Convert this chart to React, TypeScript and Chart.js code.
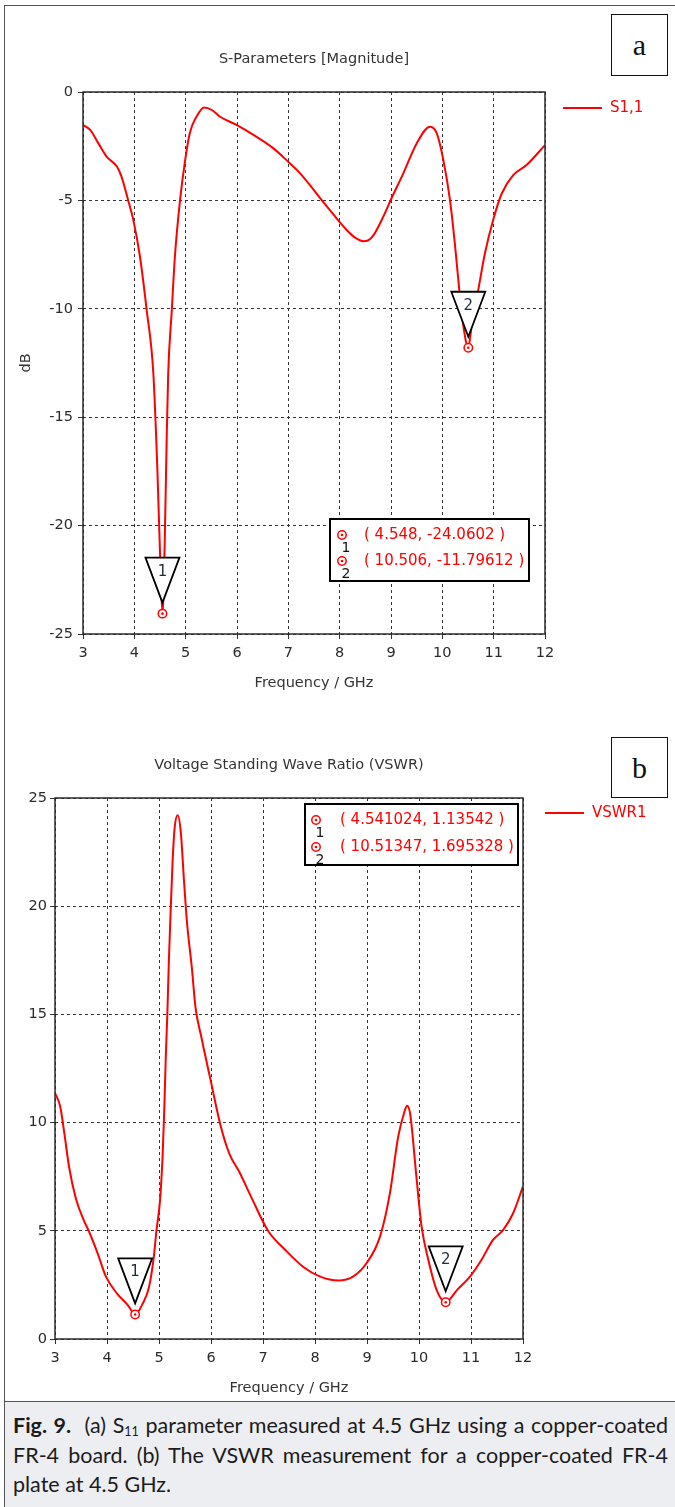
import React, { useEffect, useRef } from 'react';
import { Chart, registerables } from 'chart.js';

Chart.register(...registerables);

const FONT = "'DejaVu Sans', Verdana, sans-serif";
const RED = '#ff0000';
const INK = '#2a2a2a';

// ---------- (a) S-Parameters ----------
const freqA = [3.0, 3.14, 3.3, 3.46, 3.66, 3.75, 3.88, 3.98, 4.11, 4.24, 4.37, 4.45, 4.51, 4.548, 4.59, 4.63, 4.66, 4.73, 4.79, 4.89, 4.99, 5.08, 5.21, 5.36, 5.51, 5.67, 5.99, 6.32, 6.71, 7.03, 7.23, 7.49, 7.62, 7.88, 8.0, 8.15, 8.3, 8.46, 8.55, 8.66, 8.85, 9.01, 9.24, 9.5, 9.76, 9.89, 10.02, 10.15, 10.25, 10.33, 10.41, 10.506, 10.57, 10.7, 10.83, 10.99, 11.16, 11.38, 11.64, 12.0];
const s11 = [-1.52, -1.75, -2.37, -2.98, -3.44, -3.9, -5.0, -5.9, -7.6, -10.05, -12.97, -17.5, -22.0, -24.06, -21.0, -16.0, -12.97, -10.05, -7.6, -5.0, -3.14, -1.9, -1.14, -0.71, -0.83, -1.14, -1.52, -1.98, -2.6, -3.29, -3.75, -4.5, -4.9, -5.65, -6.0, -6.4, -6.72, -6.88, -6.85, -6.6, -5.75, -4.9, -3.75, -2.37, -1.6, -1.9, -3.14, -5.0, -7.14, -9.13, -10.8, -11.8, -10.8, -9.13, -7.44, -5.9, -4.67, -3.83, -3.37, -2.45];
const markerFreqA = [4.548, 10.506];
const markerValA = [-24.0602, -11.79612];

// ---------- (b) VSWR ----------
const freqB = [3.0, 3.1, 3.18, 3.27, 3.4, 3.55, 3.65, 3.82, 3.98, 4.19, 4.4, 4.541, 4.69, 4.81, 4.9, 4.95, 5.02, 5.07, 5.1, 5.13, 5.16, 5.19, 5.22, 5.26, 5.3, 5.36, 5.42, 5.48, 5.54, 5.63, 5.7, 5.81, 5.98, 6.19, 6.35, 6.56, 6.77, 7.1, 7.43, 7.77, 8.1, 8.45, 8.73, 8.99, 9.25, 9.44, 9.6, 9.72, 9.77, 9.83, 9.95, 10.05, 10.18, 10.34, 10.513, 10.73, 10.98, 11.2, 11.42, 11.62, 11.81, 12.0];
const vswr = [11.38, 10.74, 9.5, 7.96, 6.5, 5.5, 4.99, 3.96, 2.88, 2.11, 1.57, 1.135, 1.65, 2.42, 3.8, 4.99, 6.42, 8.5, 10.5, 13.0, 15.0, 17.5, 19.5, 22.0, 23.6, 24.2, 23.4, 21.2, 19.2, 17.2, 15.36, 14.0, 12.1, 9.81, 8.58, 7.65, 6.58, 4.99, 4.11, 3.34, 2.88, 2.7, 2.88, 3.5, 4.73, 6.73, 9.35, 10.5, 10.78, 10.4, 7.5, 5.19, 3.65, 2.26, 1.695, 2.26, 2.88, 3.65, 4.57, 5.04, 5.81, 7.05];
const markerFreqB = [4.541024, 10.51347];
const markerValB = [1.13542, 1.695328];

const freqTicks = { min: 3, max: 12, step: 1 };

type Decor = {
  title: string;
  titleY: number;
  legendX: number;
  legendY: number;
  mFreq: number[];
  mVal: number[];
  box: { x: number; y: number; w: number; h: number; cx: number; rows: number[]; tx: number };
};

function makeDecor(d: Decor) {
  return {
    id: 'decor',
    afterDatasetsDraw(chart: any) {
      const { ctx, chartArea: ca, scales } = chart;
      const xs = scales.x;
      const ys = scales.y;
      ctx.save();
      // plot frame
      ctx.strokeStyle = '#2b2b2b';
      ctx.lineWidth = 1.5;
      ctx.strokeRect(ca.left, ca.top, ca.right - ca.left, ca.bottom - ca.top);

      // markers on the curve
      d.mFreq.forEach((f, i) => {
        const px = xs.getPixelForValue(f);
        const py = ys.getPixelForValue(d.mVal[i]);
        ctx.lineWidth = 1.5;
        ctx.strokeStyle = RED;
        ctx.fillStyle = '#fff';
        ctx.beginPath();
        ctx.arc(px, py, 4.2, 0, Math.PI * 2);
        ctx.fill();
        ctx.stroke();
        ctx.fillStyle = RED;
        ctx.beginPath();
        ctx.arc(px, py, 1.3, 0, Math.PI * 2);
        ctx.fill();
        const apex = py - 11;
        const top = py - 56;
        const hw = 17;
        ctx.beginPath();
        ctx.moveTo(px - hw, top);
        ctx.lineTo(px + hw, top);
        ctx.lineTo(px, apex);
        ctx.closePath();
        ctx.fillStyle = '#fff';
        ctx.fill();
        ctx.strokeStyle = '#000';
        ctx.lineWidth = 1.8;
        ctx.stroke();
        ctx.fillStyle = '#1e2b45';
        ctx.font = `15px ${FONT}`;
        ctx.textAlign = 'center';
        ctx.textBaseline = 'middle';
        ctx.fillText(String(i + 1), px, top + 14);
      });

      // marker info box
      const b = d.box;
      ctx.fillStyle = '#fff';
      ctx.fillRect(b.x, b.y, b.w, b.h);
      ctx.strokeStyle = '#000';
      ctx.lineWidth = 2;
      ctx.strokeRect(b.x, b.y, b.w, b.h);
      d.mFreq.forEach((f, i) => {
        const ry = b.rows[i];
        ctx.lineWidth = 1.5;
        ctx.strokeStyle = RED;
        ctx.beginPath();
        ctx.arc(b.cx, ry, 4.2, 0, Math.PI * 2);
        ctx.stroke();
        ctx.fillStyle = RED;
        ctx.beginPath();
        ctx.arc(b.cx, ry, 1.3, 0, Math.PI * 2);
        ctx.fill();
        ctx.fillStyle = '#111';
        ctx.font = `14px ${FONT}`;
        ctx.textAlign = 'center';
        ctx.textBaseline = 'middle';
        ctx.fillText(String(i + 1), b.cx + 4, ry + 13);
        ctx.fillStyle = RED;
        ctx.font = `15px ${FONT}`;
        ctx.textAlign = 'left';
        ctx.fillText(`( ${f}, ${d.mVal[i]} )`, b.tx, ry);
      });

      // title
      ctx.fillStyle = '#333';
      ctx.font = `14.5px ${FONT}`;
      ctx.textAlign = 'center';
      ctx.textBaseline = 'middle';
      ctx.fillText(d.title, (ca.left + ca.right) / 2, d.titleY);

      // legend
      const ds = chart.data.datasets[0];
      ctx.strokeStyle = ds.borderColor;
      ctx.lineWidth = 2;
      ctx.beginPath();
      ctx.moveTo(d.legendX, d.legendY);
      ctx.lineTo(d.legendX + 39, d.legendY);
      ctx.stroke();
      ctx.fillStyle = ds.borderColor;
      ctx.font = `15px ${FONT}`;
      ctx.textAlign = 'left';
      ctx.fillText(ds.label, d.legendX + 47, d.legendY);
      ctx.restore();
    },
  };
}

function buildConfig(p: {
  freqs: number[];
  vals: number[];
  label: string;
  yMin: number;
  yMax: number;
  yStep: number;
  padTop: number;
  padRight: number;
  yWidth: number;
  xHeight: number;
  xTitlePad: number;
  yTitle: string;
  yTitlePad: number;
  yTickPad: number;
  decor: Decor;
}): any {
  const tickFont = { family: FONT, size: 14.5 };
  const grid = {
    color: '#333',
    lineWidth: 1,
    drawTicks: true,
    tickLength: 5,
    tickColor: '#333',
    tickWidth: 1,
    tickBorderDash: [],
  };
  return {
    type: 'line',
    data: {
      datasets: [
        {
          label: p.label,
          data: p.freqs.map((f, i) => ({ x: f, y: p.vals[i] })),
          borderColor: RED,
          borderWidth: 2,
          pointRadius: 0,
          cubicInterpolationMode: 'monotone',
          fill: false,
        },
      ],
    },
    options: {
      responsive: false,
      animation: false,
      events: [],
      layout: { padding: { top: p.padTop, right: p.padRight, left: 0, bottom: 0 } },
      plugins: { legend: { display: false }, title: { display: false }, tooltip: { enabled: false } },
      scales: {
        x: {
          type: 'linear',
          min: freqTicks.min,
          max: freqTicks.max,
          afterFit: (s: any) => {
            s.height = p.xHeight;
          },
          ticks: { stepSize: freqTicks.step, font: tickFont, color: INK, padding: 6, maxRotation: 0, autoSkip: false },
          grid,
          border: { display: false, dash: [3, 3] },
          title: {
            display: true,
            text: 'Frequency / GHz',
            color: '#333',
            font: { family: FONT, size: 14.5 },
            padding: { top: 0, bottom: p.xTitlePad },
          },
        },
        y: {
          type: 'linear',
          min: p.yMin,
          max: p.yMax,
          afterFit: (s: any) => {
            s.width = p.yWidth;
          },
          ticks: { stepSize: p.yStep, font: tickFont, color: INK, padding: p.yTickPad },
          grid,
          border: { display: false, dash: [3, 3] },
          title: {
            display: p.yTitle !== '',
            text: p.yTitle,
            color: '#333',
            font: { family: FONT, size: 14.5 },
            padding: { top: p.yTitlePad, bottom: 0 },
          },
        },
      },
    },
    plugins: [makeDecor(p.decor)],
  };
}

export default function App() {
  const refA = useRef<HTMLCanvasElement>(null);
  const refB = useRef<HTMLCanvasElement>(null);

  useEffect(() => {
    const chartA = new Chart(
      refA.current as HTMLCanvasElement,
      buildConfig({
        freqs: freqA,
        vals: s11,
        label: 'S1,1',
        yMin: -25,
        yMax: 0,
        yStep: 5,
        padTop: 92,
        padRight: 130,
        yWidth: 83,
        xHeight: 66,
        xTitlePad: 8,
        yTitle: 'dB',
        yTitlePad: 18,
        yTickPad: 5,
        decor: {
          title: 'S-Parameters [Magnitude]',
          titleY: 59,
          legendX: 563,
          legendY: 108,
          mFreq: markerFreqA,
          mVal: markerValA,
          box: { x: 330, y: 519, w: 199, h: 62, cx: 342, rows: [535, 561], tx: 364 },
        },
      })
    );
    const chartB = new Chart(
      refB.current as HTMLCanvasElement,
      buildConfig({
        freqs: freqB,
        vals: vswr,
        label: 'VSWR1',
        yMin: 0,
        yMax: 25,
        yStep: 5,
        padTop: 98,
        padRight: 152,
        yWidth: 55,
        xHeight: 61,
        xTitlePad: 3,
        yTitle: '',
        yTitlePad: 0,
        yTickPad: 3,
        decor: {
          title: 'Voltage Standing Wave Ratio (VSWR)',
          titleY: 65,
          legendX: 545,
          legendY: 113,
          mFreq: markerFreqB,
          mVal: markerValB,
          box: { x: 305, y: 104, w: 213, h: 61, cx: 316, rows: [120, 147], tx: 340 },
        },
      })
    );
    return () => {
      chartA.destroy();
      chartB.destroy();
    };
  }, []);

  const letterBox = (top: number, h: number): React.CSSProperties => ({
    position: 'absolute',
    left: 611,
    top,
    width: 57,
    height: h,
    boxSizing: 'border-box',
    border: '1.5px solid #111',
    background: '#fff',
    fontFamily: "'Liberation Serif', 'DejaVu Serif', serif",
    fontSize: 30,
    color: '#111',
    display: 'flex',
    alignItems: 'center',
    justifyContent: 'center',
  });

  const justLine: React.CSSProperties = { textAlign: 'justify', textAlignLast: 'justify', whiteSpace: 'nowrap' };

  return (
    <div style={{ position: 'absolute', left: 0, top: 0, width: 675, height: 1507, background: '#fff', overflow: 'hidden' }}>
      <canvas ref={refA} width={675} height={700} style={{ position: 'absolute', left: 0, top: 0 }} />
      <canvas ref={refB} width={675} height={700} style={{ position: 'absolute', left: 0, top: 700 }} />
      <div style={{ position: 'absolute', left: 4, top: 5, width: 700, height: 1600, borderLeft: '1.5px solid #555', borderTop: '1.5px solid #555' }} />
      <div style={letterBox(14, 62)}>a</div>
      <div style={letterBox(737, 61)}>b</div>
      <div
        style={{
          position: 'absolute',
          left: 5,
          top: 1401,
          width: 670,
          height: 106,
          boxSizing: 'border-box',
          background: '#eceef1',
          borderTop: '1.5px solid #555',
          padding: '9px 7px 0 8px',
          fontFamily: "Lato, 'Open Sans', sans-serif",
          fontSize: 21.5,
          lineHeight: '29.5px',
          color: '#1d1b1c',
        }}
      >
        <div style={justLine}>
          <b>Fig. 9.</b>&nbsp; (a) S<sub style={{ fontSize: 12.5, verticalAlign: -3, lineHeight: 0 }}>11</sub> parameter measured at 4.5 GHz using a copper-coated
        </div>
        <div style={justLine}>FR-4 board. (b) The VSWR measurement for a copper-coated FR-4</div>
        <div>plate at 4.5 GHz.</div>
      </div>
    </div>
  );
}
